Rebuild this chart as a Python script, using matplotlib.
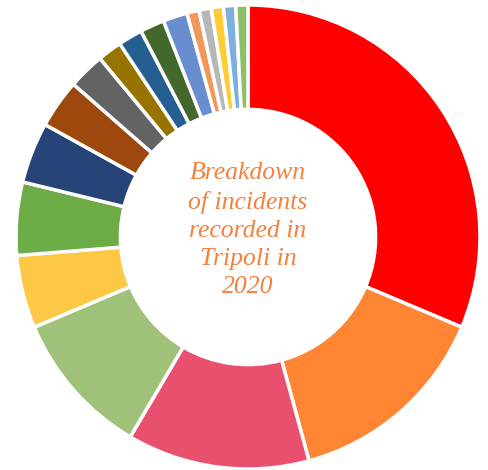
import matplotlib
matplotlib.use("Agg")
import matplotlib.pyplot as plt

categories = ["Cat 1", "Cat 2", "Cat 3", "Cat 4", "Cat 5", "Cat 6", "Cat 7", "Cat 8",
              "Cat 9", "Cat 10", "Cat 11", "Cat 12", "Cat 13", "Cat 14", "Cat 15",
              "Cat 16", "Cat 17", "Cat 18"]
values = [37, 17, 15, 12, 6, 6, 5, 4, 3, 2, 2, 2, 2, 1, 1, 1, 1, 1]
colors = ["#FF0000", "#FF8533", "#E8506E", "#9FC17A", "#FCC846", "#6DAB47",
          "#264478", "#9E480E", "#636363", "#997300", "#255E91", "#43682B",
          "#698ED0", "#F1975A", "#B7B7B7", "#FFCD33", "#7CAFDD", "#8CC168"]

fig = plt.figure(figsize=(4.88, 4.70), dpi=100)
ax = fig.add_axes([16/488, 1/470, 464/488, 464/470])
ax.pie(values, colors=colors, startangle=90, counterclock=False, radius=1.0,
       wedgeprops=dict(width=0.45, edgecolor="white", linewidth=2.5))
ax.set_xlim(-1, 1)
ax.set_ylim(-1, 1)
ax.set_aspect("equal")
ax.axis("off")
ax.text(0, 0.03, "Breakdown\nof incidents\nrecorded in\nTripoli in\n2020",
        ha="center", va="center", fontsize=18.5, style="italic",
        family="Liberation Serif", color="#F5803D", linespacing=1.35)
fig.savefig("out.png", dpi=100)
